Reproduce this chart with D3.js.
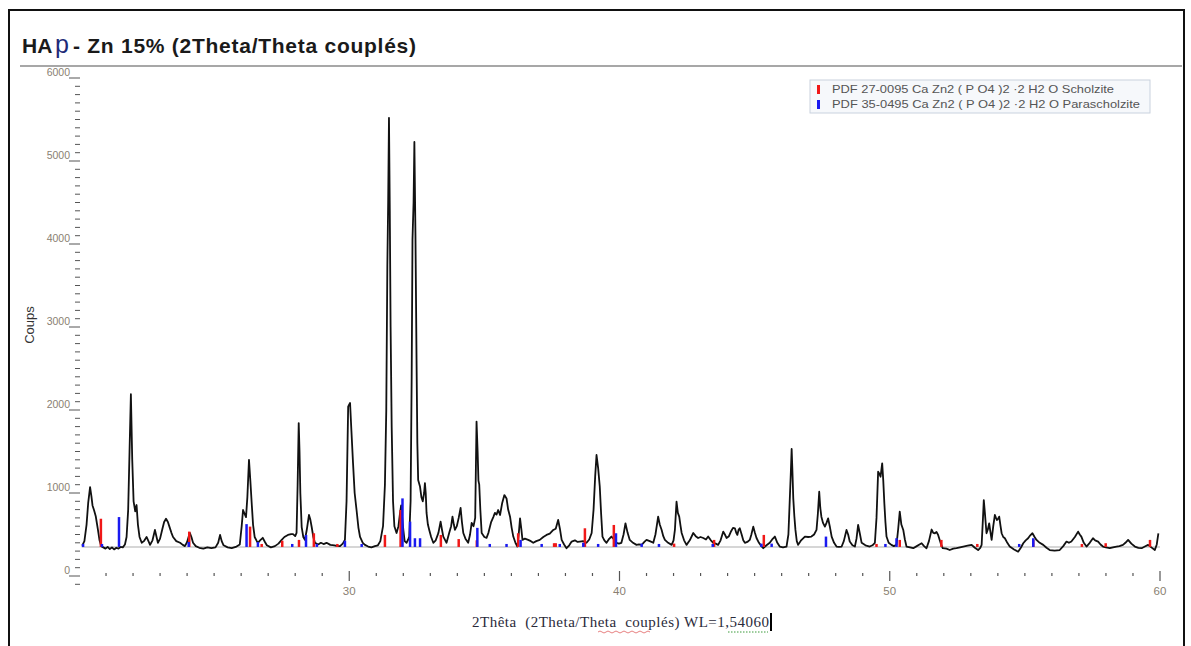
<!DOCTYPE html>
<html>
<head>
<meta charset="utf-8">
<script src="https://cdn.jsdelivr.net/npm/d3@7"></script>
<style>
  html, body { margin: 0; padding: 0; background: #fff; }
  svg { display: block; }
</style>
</head>
<body>
<svg id="chart" width="1191" height="646"></svg>
<script>
// Diffractogram: 2θ (degrees) vs counts
const scan = [
  [20.12,365],[20.2,420],[20.28,620],[20.34,880],[20.41,1070],[20.46,960],[20.5,850],[20.56,790],[20.62,720],[20.7,560],[20.76,430],[20.82,360],[20.9,345],[20.98,330],[21.06,350],[21.14,325],[21.22,345],[21.3,320],[21.38,340],[21.46,330],[21.54,350],[21.62,345],[21.7,380],[21.76,470],[21.82,800],[21.87,1500],[21.92,2190],[21.97,1400],[22.02,900],[22.08,780],[22.13,855],[22.18,620],[22.24,470],[22.32,400],[22.4,420],[22.5,470],[22.57,420],[22.63,375],[22.72,430],[22.81,555],[22.87,470],[22.92,400],[23.0,450],[23.08,560],[23.15,650],[23.22,690],[23.29,650],[23.36,580],[23.42,520],[23.48,470],[23.6,420],[23.74,400],[23.84,375],[23.92,360],[24.0,410],[24.1,520],[24.16,470],[24.22,400],[24.32,360],[24.45,340],[24.6,330],[24.75,345],[24.9,335],[25.05,345],[25.15,400],[25.22,495],[25.28,420],[25.35,370],[25.5,345],[25.65,335],[25.8,350],[25.95,380],[26.02,600],[26.07,795],[26.14,740],[26.18,710],[26.23,950],[26.29,1400],[26.34,1150],[26.39,880],[26.44,620],[26.5,470],[26.58,420],[26.62,400],[26.7,430],[26.8,460],[26.88,410],[26.95,370],[27.1,345],[27.25,360],[27.38,390],[27.5,435],[27.6,470],[27.73,495],[27.85,505],[27.92,505],[28.0,480],[28.05,520],[28.09,1100],[28.13,1843],[28.16,1500],[28.19,1000],[28.24,590],[28.3,470],[28.36,435],[28.43,560],[28.51,735],[28.56,680],[28.61,590],[28.67,470],[28.73,400],[28.85,380],[28.95,400],[29.05,385],[29.16,400],[29.3,375],[29.45,370],[29.56,360],[29.66,360],[29.76,390],[29.84,435],[29.9,900],[29.96,2040],[30.03,2085],[30.08,1750],[30.14,1360],[30.2,1000],[30.27,795],[30.34,580],[30.4,470],[30.5,400],[30.58,375],[30.7,355],[30.82,345],[30.95,360],[31.06,370],[31.15,420],[31.25,600],[31.32,1100],[31.37,2000],[31.41,3750],[31.44,4500],[31.47,5520],[31.5,4400],[31.53,3000],[31.57,1800],[31.62,900],[31.67,600],[31.75,518],[31.82,600],[31.88,760],[31.92,850],[31.96,700],[32.0,560],[32.05,420],[32.12,400],[32.18,440],[32.22,475],[32.27,900],[32.31,2400],[32.34,4050],[32.38,4500],[32.41,5230],[32.45,4100],[32.49,2600],[32.52,1600],[32.55,1157],[32.62,1075],[32.67,950],[32.72,900],[32.77,1000],[32.8,1120],[32.83,1000],[32.86,760],[32.91,620],[32.96,555],[33.03,470],[33.11,400],[33.2,430],[33.3,520],[33.38,655],[33.43,560],[33.48,475],[33.6,400],[33.7,520],[33.77,600],[33.82,715],[33.87,620],[33.91,555],[33.98,600],[34.05,700],[34.12,820],[34.17,650],[34.22,518],[34.3,450],[34.4,400],[34.47,500],[34.53,640],[34.6,600],[34.66,700],[34.71,1860],[34.75,1500],[34.78,1150],[34.81,1100],[34.85,800],[34.9,518],[35.0,470],[35.08,460],[35.15,520],[35.25,650],[35.33,710],[35.39,760],[35.45,740],[35.51,795],[35.58,735],[35.66,880],[35.74,975],[35.82,935],[35.88,800],[35.95,715],[36.01,580],[36.07,475],[36.15,400],[36.22,355],[36.27,500],[36.32,695],[36.37,560],[36.41,435],[36.5,450],[36.62,435],[36.72,420],[36.81,400],[36.92,420],[37.05,435],[37.18,470],[37.3,495],[37.42,510],[37.55,555],[37.64,570],[37.73,675],[37.8,560],[37.86,435],[37.95,380],[38.04,335],[38.14,370],[38.23,415],[38.35,430],[38.45,410],[38.53,415],[38.65,420],[38.78,400],[38.88,440],[38.97,518],[39.04,800],[39.1,1200],[39.15,1458],[39.21,1300],[39.27,1075],[39.32,750],[39.37,475],[39.44,430],[39.52,400],[39.6,440],[39.7,475],[39.8,440],[39.89,400],[39.98,390],[40.07,400],[40.15,500],[40.22,635],[40.3,520],[40.38,435],[40.5,400],[40.63,375],[40.72,380],[40.82,375],[40.92,410],[41.0,435],[41.12,420],[41.25,400],[41.33,500],[41.4,650],[41.43,715],[41.49,620],[41.56,555],[41.62,480],[41.68,435],[41.8,400],[41.93,375],[42.0,430],[42.05,555],[42.11,895],[42.16,760],[42.21,715],[42.26,600],[42.3,518],[42.39,430],[42.48,375],[42.6,430],[42.73,518],[42.82,480],[42.91,458],[43.0,470],[43.1,458],[43.2,440],[43.28,475],[43.38,430],[43.47,400],[43.56,390],[43.65,375],[43.74,430],[43.84,535],[43.9,500],[43.96,458],[44.05,480],[44.13,540],[44.2,580],[44.27,575],[44.32,520],[44.36,495],[44.41,560],[44.45,575],[44.52,500],[44.58,430],[44.64,400],[44.73,410],[44.82,435],[44.88,500],[44.95,595],[45.01,520],[45.07,458],[45.16,400],[45.25,360],[45.32,335],[45.44,370],[45.56,400],[45.65,440],[45.75,475],[45.84,400],[45.93,355],[46.05,345],[46.18,355],[46.25,500],[46.3,915],[46.34,1250],[46.37,1530],[46.4,1250],[46.43,935],[46.47,720],[46.51,555],[46.56,420],[46.61,375],[46.72,430],[46.86,475],[46.98,470],[47.1,475],[47.2,500],[47.29,555],[47.34,750],[47.39,1015],[47.43,820],[47.47,715],[47.53,640],[47.6,595],[47.66,640],[47.72,695],[47.78,600],[47.85,475],[47.94,400],[48.03,355],[48.12,350],[48.22,355],[48.3,420],[48.4,555],[48.46,500],[48.52,415],[48.62,370],[48.71,355],[48.77,450],[48.83,615],[48.9,500],[48.96,400],[49.1,370],[49.26,355],[49.36,370],[49.45,400],[49.51,700],[49.57,1257],[49.62,1230],[49.66,1196],[49.72,1357],[49.76,1150],[49.8,876],[49.84,650],[49.88,475],[49.96,400],[50.06,375],[50.15,360],[50.25,375],[50.31,560],[50.37,775],[50.43,620],[50.5,555],[50.56,440],[50.62,355],[50.75,345],[50.87,335],[51.0,360],[51.1,380],[51.18,395],[51.27,360],[51.36,335],[51.45,420],[51.55,560],[51.61,520],[51.67,515],[51.73,530],[51.79,495],[51.88,400],[51.96,335],[52.1,330],[52.22,313],[52.35,330],[52.47,335],[52.6,345],[52.72,355],[52.88,365],[53.03,375],[53.15,340],[53.27,313],[53.35,340],[53.4,375],[53.45,700],[53.48,915],[53.52,760],[53.58,515],[53.63,560],[53.68,635],[53.72,540],[53.77,435],[53.83,600],[53.89,735],[53.93,700],[53.97,675],[54.01,690],[54.05,715],[54.1,600],[54.14,515],[54.2,470],[54.26,455],[54.35,400],[54.44,355],[54.6,320],[54.75,293],[54.85,340],[54.94,395],[55.03,430],[55.12,455],[55.2,490],[55.28,515],[55.36,470],[55.43,435],[55.55,400],[55.68,375],[55.8,340],[55.92,313],[56.1,305],[56.29,313],[56.42,360],[56.54,415],[56.63,400],[56.72,415],[56.85,470],[56.97,535],[57.03,500],[57.09,475],[57.18,400],[57.28,355],[57.4,400],[57.52,455],[57.6,430],[57.71,415],[57.8,380],[57.89,355],[58.0,345],[58.14,335],[58.26,345],[58.39,355],[58.5,360],[58.63,375],[58.72,400],[58.82,435],[58.94,390],[59.07,355],[59.2,340],[59.32,335],[59.44,355],[59.56,375],[59.68,345],[59.81,313],[59.88,380],[59.94,515]
];

// Reference patterns: [2θ, top of stick in counts]
const scholzite = [
  [20.81,690],[24.08,535],[26.33,595],[26.76,380],[27.52,425],[28.14,435],[28.69,515],[29.56,372],
  [31.32,495],[31.9,795],[33.39,495],[34.05,445],[34.72,430],[36.25,515],[37.58,395],[37.64,395],
  [38.72,575],[39.79,615],[42.02,390],[43.5,435],[45.34,495],[49.51,372],[50.37,435],[51.91,435],
  [53.24,368],[55.31,440],[57.11,362],[57.99,395],[59.63,435]
];
const parascholzite = [
  [20.15,380],[20.85,372],[21.48,710],[24.06,410],[26.2,625],[26.62,410],[27.89,372],[28.4,495],
  [28.8,380],[29.84,425],[30.46,375],[31.97,935],[32.25,655],[32.43,455],[32.62,455],[34.74,580],
  [35.2,372],[35.82,372],[36.34,435],[37.12,380],[37.79,372],[38.66,400],[39.21,372],[39.87,515],
  [40.82,390],[41.46,368],[43.45,380],[45.25,390],[45.63,390],[47.64,475],[49.84,368],[50.25,455],
  [54.79,362],[55.31,455]
];
const stickBase = 350;
const legendLabels = [
  "PDF 27-0095 Ca Zn2 ( P O4 )2 ·2 H2 O Scholzite",
  "PDF 35-0495 Ca Zn2 ( P O4 )2 ·2 H2 O Parascholzite"
];
const xTickLabels = [30, 40, 50, 60];
const yTickLabels = [0, 1000, 2000, 3000, 4000, 5000, 6000];

const svg = d3.select("#chart");
const x = d3.scaleLinear().domain([20, 60]).range([79, 1160]);
const y = d3.scaleLinear().domain([0, 6000]).range([576, 78]);
const sans = "Liberation Sans, Arial, sans-serif";

// outer frame
svg.append("path")
  .attr("d", "M9,650 V10 H1184 V650")
  .attr("fill", "none").attr("stroke", "#111").attr("stroke-width", 2);

// title, set in three pieces
svg.append("text").attr("x", 22).attr("y", 53)
  .attr("font-family", sans).attr("font-size", 21).attr("font-weight", "bold")
  .attr("fill", "#1a1a1a").text("HA");
svg.append("text").attr("x", 55).attr("y", 53)
  .attr("font-family", sans).attr("font-size", 25)
  .attr("fill", "#1e2a78").text("p");
svg.append("text").attr("x", 73).attr("y", 53)
  .attr("font-family", sans).attr("font-size", 21).attr("font-weight", "bold")
  .attr("fill", "#1a1a1a")
  .attr("textLength", 343).attr("lengthAdjust", "spacing")
  .text("- Zn 15% (2Theta/Theta couplés)");

svg.append("line").attr("x1", 20).attr("x2", 1182).attr("y1", 66).attr("y2", 66)
  .attr("stroke", "#8a8a8a").attr("stroke-width", 1.5);

// y axis: ticks every 100, labels every 1000, no spine
const yAxis = svg.append("g").attr("class", "y-axis");
yAxis.selectAll("line").data(d3.range(-100, 6001, 100)).join("line")
  .attr("x1", d => d % 1000 === 0 ? 69 : 75)
  .attr("x2", 80)
  .attr("y1", d => y(d)).attr("y2", d => y(d))
  .attr("stroke", "#555").attr("stroke-width", 1);
yAxis.selectAll("text").data(yTickLabels).join("text")
  .attr("x", 70).attr("y", d => y(d) - 2)
  .attr("text-anchor", "end")
  .attr("font-family", sans).attr("font-size", 10.5)
  .attr("fill", "#8a7f72")
  .text(d => d);

svg.append("text")
  .attr("transform", "translate(34,325) rotate(-90)")
  .attr("text-anchor", "middle")
  .attr("font-family", sans).attr("font-size", 13)
  .attr("fill", "#333").text("Coups");

// x axis: minor ticks each degree, major ticks every ten
const xAxis = svg.append("g").attr("class", "x-axis");
xAxis.selectAll("line").data(d3.range(21, 61)).join("line")
  .attr("x1", d => x(d)).attr("x2", d => x(d))
  .attr("y1", d => d % 10 === 0 ? 571 : 573)
  .attr("y2", d => d % 10 === 0 ? 581 : 576)
  .attr("stroke", "#555").attr("stroke-width", 1.2);
xAxis.selectAll("text").data(xTickLabels).join("text")
  .attr("x", d => x(d)).attr("y", 595)
  .attr("text-anchor", "middle")
  .attr("font-family", sans).attr("font-size", 11.5)
  .attr("fill", "#8a7f72").text(d => d);

// x axis title
svg.append("text").attr("x", 472).attr("y", 627)
  .attr("font-family", "Liberation Serif, Times New Roman, serif").attr("font-size", 15)
  .attr("fill", "#2a2a3a").attr("xml:space", "preserve")
  .attr("textLength", 297).attr("lengthAdjust", "spacing")
  .text("2Thêta  (2Theta/Theta  couplés) WL=1,54060");
svg.append("path").attr("d", "M598,632 q2,-2 4,0 t4,0 t4,0 t4,0 t4,0 t4,0 t4,0 t4,0 t4,0 t4,0 t4,0 t4,0 t4,0")
  .attr("fill", "none").attr("stroke", "#e06060").attr("stroke-width", 0.8);
svg.append("line").attr("x1", 728).attr("x2", 768).attr("y1", 632).attr("y2", 632)
  .attr("stroke", "#3a9a3a").attr("stroke-width", 1).attr("stroke-dasharray", "1.5,1.5");
svg.append("line").attr("x1", 771).attr("x2", 771).attr("y1", 613).attr("y2", 631)
  .attr("stroke", "#000").attr("stroke-width", 2);

// background level
svg.append("line").attr("x1", x(20.1)).attr("x2", x(60)).attr("y1", y(stickBase)).attr("y2", y(stickBase))
  .attr("stroke", "#d6d6d6").attr("stroke-width", 2);

// measured pattern
const line = d3.line().x(d => x(d[0])).y(d => y(d[1]));
svg.append("path").datum(scan)
  .attr("d", line)
  .attr("fill", "none").attr("stroke", "#111").attr("stroke-width", 1.8)
  .attr("stroke-linejoin", "round");

// reference sticks
function sticks(data, color) {
  svg.append("g").selectAll("line").data(data).join("line")
    .attr("x1", d => x(d[0])).attr("x2", d => x(d[0]))
    .attr("y1", y(stickBase)).attr("y2", d => Math.min(y(d[1]), y(stickBase) - 3))
    .attr("stroke", color).attr("stroke-width", 2.5);
}
sticks(scholzite, "#f01818");
sticks(parascholzite, "#1a1af0");

// legend
const lg = svg.append("g").attr("transform", "translate(810,80)");
lg.append("rect").attr("width", 340).attr("height", 33)
  .attr("fill", "#f6f8fb").attr("stroke", "#c9d2de").attr("stroke-width", 1);
const legendColors = ["#f01818", "#1a1af0"];
const legendWidths = [282, 308];
legendLabels.forEach((t, i) => {
  lg.append("rect").attr("x", 7).attr("y", 5 + i * 15).attr("width", 3).attr("height", 9)
    .attr("fill", legendColors[i]);
  lg.append("text").attr("x", 22).attr("y", 13 + i * 15)
    .attr("font-family", sans).attr("font-size", 11.5)
    .attr("textLength", legendWidths[i]).attr("lengthAdjust", "spacingAndGlyphs")
    .attr("fill", "#555").text(t);
});
</script>
</body>
</html>
